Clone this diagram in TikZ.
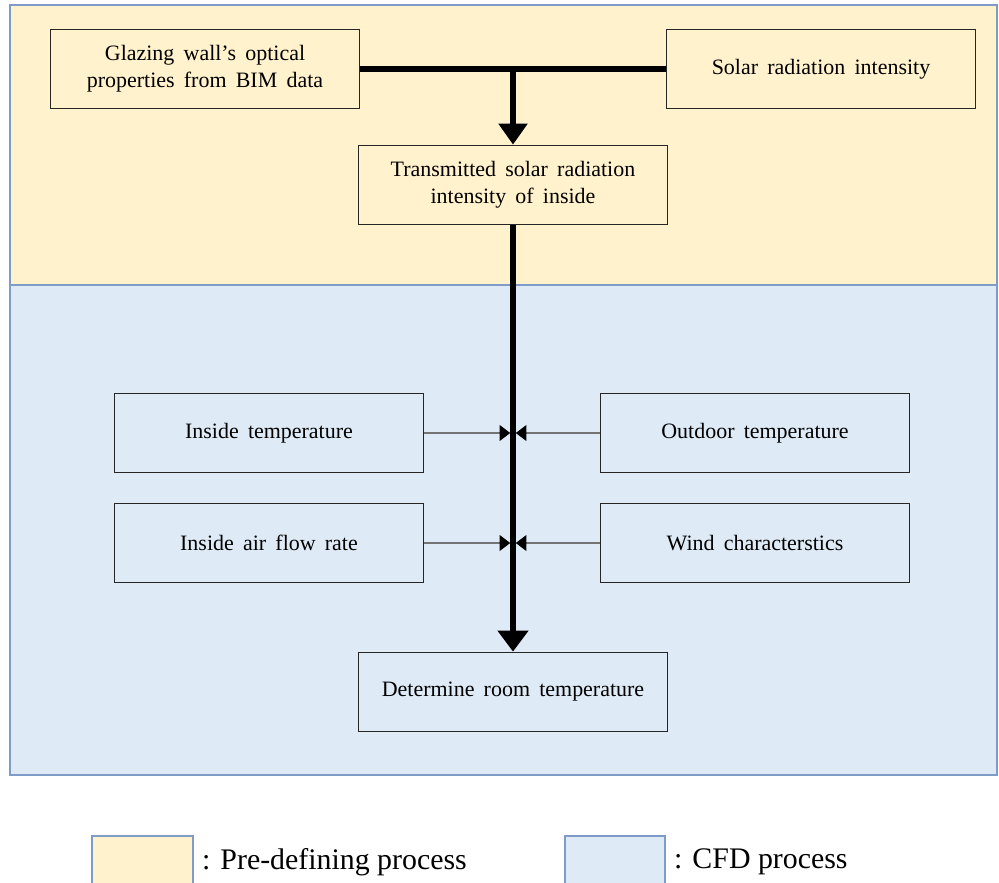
\documentclass[tikz,border=0pt]{standalone}
\usepackage{fontspec}
\setmainfont{Liberation Serif}
\usetikzlibrary{arrows.meta,positioning}
\definecolor{predef}{HTML}{FFF2CC}
\definecolor{cfd}{HTML}{DEEBF7}
\definecolor{frame}{HTML}{7F9CC8}
\newcommand{\procfont}{\fontsize{12.5}{15.5}\selectfont\spaceskip=0.42em plus 0.1em\relax}
\tikzset{
	proc/.style={
		rectangle,
		draw=black!85,
		line width=1pt,
		minimum width=6.18cm,
		minimum height=1.58cm,
		align=center,
		inner sep=2pt,
		font=\procfont,
	},
	region/.style={
		draw=frame,
		line width=1pt,
	},
	flow/.style={
		line width=3.3pt,
	},
	feed/.style={
		draw=black!55,
		line width=0.6pt,
		shorten >=1.6pt,
		-{Triangle[length=6pt,width=9pt,color=black]},
	},
	legend/.style={
		anchor=west,
		font=\fontsize{17}{20}\selectfont,
	},
}

\begin{document}
\begin{tikzpicture}[x=0.02cm,y=-0.02cm]
		\useasboundingbox (0,0) rectangle (999,882);
		\clip (0,0) rectangle (999,882);
		\filldraw[region,fill=predef] (10,5) rectangle (997,285);
		\filldraw[region,fill=cfd] (10,285) rectangle (997,775);

		\node [proc] (glazing) at (205,69) {Glazing wall’s optical\\properties from BIM data};
		\node [proc] (solar) at (821,69) {Solar radiation intensity};
		\node [proc] (trans) at (513,185) {Transmitted solar radiation\\intensity of inside};
		\node [proc] (inTemp) at (269,433) {Inside temperature};
		\node [proc] (outTemp) at (755,433) {Outdoor temperature};
		\node [proc] (inAir) at (269,543) {Inside air flow rate};
		\node [proc] (wind) at (755,543) {Wind characterstics};
		\node [proc] (room) at (513,692) {Determine room temperature};

		\coordinate (join) at (trans.north |- glazing.east);
		\draw[flow] (glazing.east) -- (solar.west);
		\draw[flow,-{Triangle[length=12pt,width=16pt]}] (join) -- (trans.north);
		\draw[flow,-{Triangle[length=12pt,width=17pt]}] (trans.south) -- (room.north);

		\draw[feed] (inTemp.east) -- (trans.south |- inTemp.east);
		\draw[feed] (outTemp.west) -- (trans.south |- outTemp.west);
		\draw[feed] (inAir.east) -- (trans.south |- inAir.east);
		\draw[feed] (wind.west) -- (trans.south |- wind.west);

		\filldraw[region,fill=predef] (92,836) rectangle (193,895);
		\node [legend] (preText) at (196,862) {: Pre-defining process};
		\filldraw[region,fill=cfd] (565,836) rectangle (665,895);
		\node [legend] (cfdText) at (668,862) {: CFD process};
	\end{tikzpicture}
\end{document}
